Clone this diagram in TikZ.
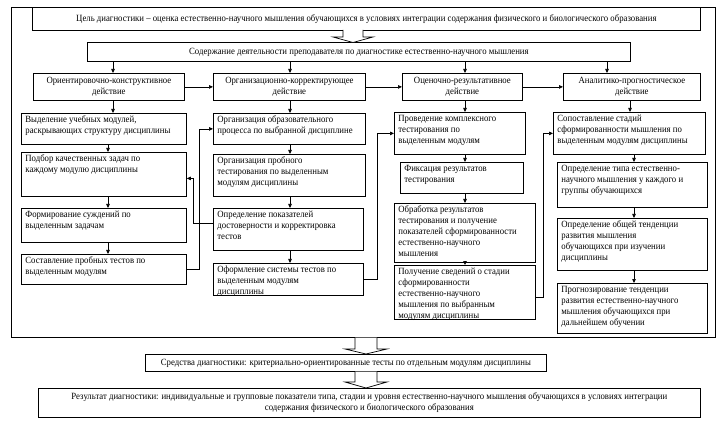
\documentclass[tikz,border=0pt]{standalone}
\usepackage{fontspec}
\setmainfont{Liberation Serif}[FakeStretch=0.92]
\usetikzlibrary{arrows.meta,calc}
\newcommand\BX[6]{\node[box] (#1) at (#2,#3) {\parbox[b][\dimexpr #5pt-#3pt-5pt\relax][t]{\dimexpr #4pt-#2pt-8pt\relax}{\raggedright #6}};}
\newcommand\HD[6]{\node[hdr, minimum width={#4-#2}, minimum height={#5-#3}] (#1) at (#2,#3) {#6};}
\begin{document}
\begin{tikzpicture}[x=1pt,y=-1pt,
  every node/.style={font=\fontsize{9.5}{11}\selectfont},
  box/.style={draw, line width=0.8pt, anchor=north west, inner xsep=4pt, inner ysep=2.5pt},
  hdr/.style={draw, line width=0.8pt, anchor=north west, inner sep=1pt, align=center},
  arr/.style={-{Triangle[length=4pt,width=3.5pt]}, line width=0.7pt},
  blk/.style={draw, fill=white, line width=0.7pt}]
\useasboundingbox (0,0) rectangle (721,425);
\node[draw, line width=0.8pt, anchor=north west, minimum width=704pt, minimum height=330pt, inner sep=0] (frame) at (11,7) {};
\HD{goal}{32}{7}{700}{30}{Цель диагностики – оценка естественно-научного мышления обучающихся в условиях интеграции содержания физического и биологического образования}
\HD{cont}{87}{42}{630}{61}{Содержание деятельности преподавателя по диагностике естественно-научного мышления}
\HD{h1}{33}{73}{184}{100}{Ориентировочно-конструктивное\\действие}
\HD{h2}{213}{73}{365}{100}{Организационно-корректирующее\\действие}
\HD{h3}{402}{73}{522}{100}{Оценочно-результативное\\действие}
\HD{h4}{563}{73}{700}{100}{Аналитико-прогностическое\\действие}
\BX{b11}{21}{113}{186}{144}{Выделение учебных модулей,\\раскрывающих структуру дисциплины}
\BX{b12}{21}{152}{186}{196}{Подбор качественных задач по\\каждому модулю дисциплины}
\BX{b13}{21}{208}{186}{242}{Формирование суждений по\\выделенным задачам}
\BX{b14}{21}{254}{186}{284}{Составление пробных тестов по\\выделенным модулям}
\BX{b21}{213}{113}{365}{144}{Организация образовательного\\процесса по выбранной дисциплине}
\BX{b22}{213}{154}{365}{196}{Организация пробного\\тестирования по выделенным\\модулям дисциплины}
\BX{b23}{213}{208}{363}{250}{Определение показателей\\достоверности и корректировка\\тестов}
\BX{b24}{213}{263}{363}{295}{Оформление системы тестов по\\выделенным модулям\\дисциплины}
\BX{b31}{394}{112}{525}{154}{Проведение комплексного\\тестирования по\\выделенным модулям}
\BX{b32}{400}{162}{523}{193}{Фиксация результатов\\тестирования}
\BX{b33}{394}{203}{535}{262}{Обработка результатов\\тестирования и получение\\показателей сформированности\\естественно-научного\\мышления}
\BX{b34}{394}{265}{535}{319}{Получение сведений о стадии\\сформированности\\естественно-научного\\мышления по выбранным\\модулям дисциплины}
\BX{b41}{553}{112}{705}{154}{Сопоставление стадий\\сформированности мышления по\\выделенным модулям дисциплины}
\BX{b42}{557}{162}{707}{207}{Определение типа естественно-\\научного мышления у каждого и\\группы обучающихся}
\BX{b43}{557}{218}{707}{270}{Определение общей тенденции\\развития мышления\\обучающихся при изучении\\дисциплины}
\BX{b44}{557}{283}{707}{333}{Прогнозирование тенденции\\развития естественно-научного\\мышления обучающихся при\\дальнейшем обучении}
\HD{means}{145}{354}{546}{371}{Средства диагностики: критериально-ориентированные тесты по отдельным модулям дисциплины}
\HD{res}{38}{388}{700}{417}{Результат диагностики: индивидуальные и групповые показатели типа, стадии и уровня естественно-научного мышления обучающихся в условиях интеграции\\содержания физического и биологического образования}
% block arrows
\draw[blk] (343,30) -- (343,37) -- (333,37) -- (353,42.5) -- (373,37) -- (363,37) -- (363,30);
\draw[blk] (355,337.5) -- (355,349) -- (345,349) -- (366,354) -- (387,349) -- (377,349) -- (377,337.5);
\draw[blk] (355,371.5) -- (355,382) -- (345,382) -- (366,388) -- (387,382) -- (377,382) -- (377,371.5);
% axes
\coordinate (xa) at (113,0);
\coordinate (xb) at (108,0);
\coordinate (xc) at (290,0);
\coordinate (xd) at (465,0);
\coordinate (xe) at (607,0);
\coordinate (xf) at (630,0);
\coordinate (xg) at (634,0);
% from content
\draw[arr] (cont.south -| xa) -- (h1.north -| xa);
\draw[arr] (cont.south -| xc) -- (h2.north -| xc);
\draw[arr] (cont.south -| xd) -- (h3.north -| xd);
\draw[arr] (cont.south -| xe) -- (h4.north -| xe);
% header chain
\draw[arr] (h1.east) -- (h2.west);
\draw[arr] (h2.east) -- (h3.west);
\draw[arr] (h3.east) -- (h4.west);
% column 1
\draw[arr] (h1.south -| xa) -- (b11.north -| xa);
\draw[arr] (b11.south -| xb) -- (b12.north -| xb);
\draw[arr] (b12.south -| xb) -- (b13.north -| xb);
\draw[arr] (b13.south -| xb) -- (b14.north -| xb);
% column 2
\draw[arr] (h2.south -| xc) -- (b21.north -| xc);
\draw[arr] (b21.south -| xc) -- (b22.north -| xc);
\draw[arr] (b22.south -| xc) -- (b23.north -| xc);
\draw[arr] (b23.south -| xc) -- (b24.north -| xc);
% column 3
\draw[arr] (h3.south -| xd) -- (b31.north -| xd);
\draw[arr] (b31.south -| xd) -- (b32.north -| xd);
\draw[arr] (b32.south -| xd) -- (b33.north -| xd);
\draw[arr] (b33.south -| xd) -- (b34.north -| xd);
% column 4
\draw[arr] (h4.south -| xf) -- (b41.north -| xf);
\draw[arr] (b41.south -| xg) -- (b42.north -| xg);
\draw[arr] (b42.south -| xg) -- (b43.north -| xg);
\draw[arr] (b43.south -| xg) -- (b44.north -| xg);
% feedback links
\draw[arr] (b14.east) -- ++(13,0) |- (b21.west);
\draw[arr] ([yshift=6pt]b23.west) -- ++(-20,0) |- ([yshift=-4pt]b12.east);
\draw[arr] (b24.east) -- ++(14,0) |- (b31.west);
\draw[arr] ([yshift=-5pt]b34.east) -- ++(8,0) |- (b41.west);
\end{tikzpicture}
\end{document}
